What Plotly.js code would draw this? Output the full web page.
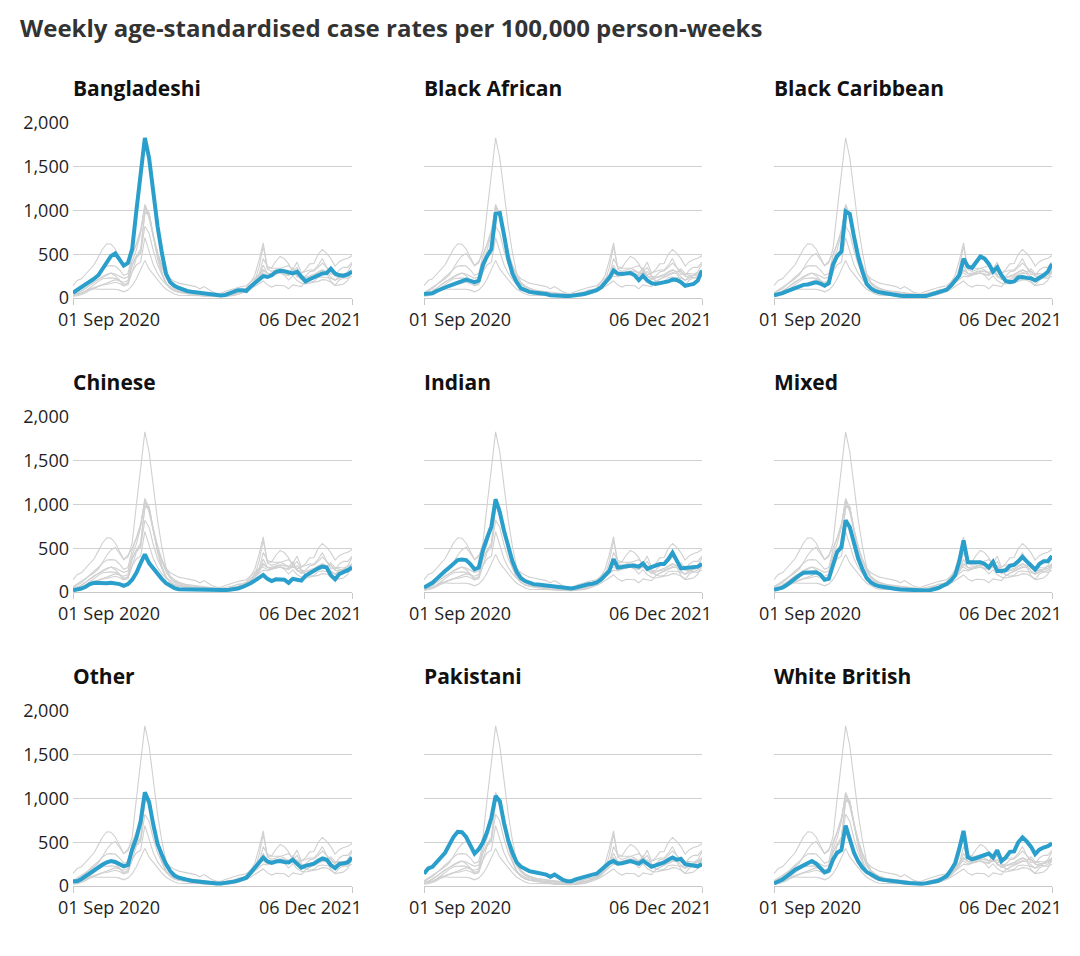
<!DOCTYPE html>
<html>
<head>
<meta charset="utf-8">
<script src="https://cdn.plot.ly/plotly-3.0.1.min.js"></script>
<style>
  html, body { margin: 0; padding: 0; background: #ffffff; }
  #chart { width: 1080px; height: 956px; }
</style>
</head>
<body>
<div id="chart"></div>
<script>
// ---- Data (weekly, 01 Sep 2020 .. 06 Dec 2021) ----
const chartTitle = "Weekly age-standardised case rates per 100,000 person-weeks";
const groups = ["Bangladeshi", "Black African", "Black Caribbean", "Chinese", "Indian", "Mixed", "Other", "Pakistani", "White British"];
const xTickLabels = ["01 Sep 2020", "06 Dec 2021"];
const yTickVals = [0, 500, 1000, 1500, 2000];

const bangladeshi = [60,90,120,150,185,220,260,340,420,480,510,440,370,400,560,1000,1450,1830,1600,1200,820,520,280,180,140,115,95,80,72,66,60,55,45,38,32,30,35,50,65,90,90,80,130,170,210,250,240,260,300,310,305,290,280,300,240,190,215,235,260,280,285,335,280,260,255,270,300];
const blackAfrican = [45,48,55,80,105,120,140,155,170,190,210,195,180,200,380,480,560,960,970,720,450,280,180,110,85,70,62,58,55,45,32,28,25,22,22,25,30,35,45,60,72,90,120,170,230,315,280,275,275,285,260,205,255,200,170,160,170,175,190,210,205,180,140,150,160,200,315];
const blackCaribbean = [30,40,55,75,95,115,130,150,155,165,180,165,140,170,380,480,530,990,960,700,470,300,160,110,80,65,55,50,45,35,25,22,20,20,20,20,22,35,50,65,80,95,140,200,260,450,360,345,420,475,450,390,300,350,260,195,180,190,235,240,230,225,200,225,260,300,390];
const chinese = [20,25,40,60,90,105,100,100,100,105,100,90,70,90,140,220,330,430,330,270,200,150,100,70,45,32,30,30,30,28,25,22,20,20,20,20,22,25,30,40,55,75,100,130,160,195,150,125,145,145,140,105,150,140,130,185,215,240,270,290,280,190,145,205,225,250,280];
const indian = [50,80,105,150,200,240,280,330,365,370,365,320,260,280,480,620,750,1060,910,700,520,350,230,160,125,105,90,85,78,72,70,62,55,50,42,40,50,65,78,88,95,110,140,190,240,375,280,285,295,300,300,290,325,265,285,300,320,320,375,450,350,270,275,280,275,290,320];
const mixed = [25,35,50,80,120,150,190,220,225,230,225,200,140,150,300,460,510,820,740,540,380,260,160,110,80,65,55,50,45,35,28,25,20,18,15,15,18,20,30,45,70,90,130,190,350,590,340,340,345,340,320,280,345,240,240,250,300,310,350,400,350,300,255,320,350,350,410];
const other = [55,55,80,115,150,180,215,245,270,285,275,250,225,240,420,550,740,1070,960,700,480,360,250,170,120,95,80,68,60,55,48,42,38,33,30,30,33,40,50,62,80,95,150,210,270,325,280,265,280,285,275,270,300,250,210,230,240,255,290,315,300,240,205,250,260,270,325];
const pakistani = [140,200,220,270,320,380,470,560,620,615,560,460,370,420,500,620,780,1030,970,720,520,380,270,220,190,170,160,150,140,130,105,130,100,70,55,55,75,90,110,120,130,140,185,230,265,285,255,260,275,285,270,255,290,250,220,235,250,270,300,325,300,310,250,240,230,225,250];
const whiteBritish = [30,50,75,110,150,185,210,235,260,285,255,200,155,175,300,380,410,690,520,380,280,210,160,130,100,80,70,62,58,55,48,40,35,30,25,25,30,38,45,60,85,115,180,260,430,630,330,305,320,340,355,370,325,410,285,325,390,395,500,555,510,450,365,415,440,455,485];

const seriesList = [bangladeshi, blackAfrican, blackCaribbean, chinese, indian, mixed, other, pakistani, whiteBritish];

// ---- Layout geometry (pixels) ----
const W = 1080, H = 956;
const colLeft = [73, 424, 774];
const colRight = [352, 702, 1052];
const rowTop = [123, 417, 711];
const plotH = 175;

const BLUE = "#2a9fcb";
const GREY = "#d0d0d0";
const FONT = "Open Sans, Noto Sans, sans-serif";

const weekIdx = bangladeshi.map((_, i) => i);
const nW = weekIdx.length - 1;

const traces = [];
const layout = {
  width: W, height: H,
  margin: {l: 0, r: 0, t: 0, b: 0},
  paper_bgcolor: "#ffffff",
  plot_bgcolor: "rgba(0,0,0,0)",
  showlegend: false,
  font: {family: FONT, size: 18, color: "#1f1f1f"},
  annotations: [],
  hovermode: false
};

layout.annotations.push({
  text: "<b>" + chartTitle + "</b>",
  xref: "paper", yref: "paper",
  x: 20 / W, y: 1 - 27 / H,
  xanchor: "left", yanchor: "middle", xshift: -2,
  showarrow: false,
  font: {family: FONT, size: 24, color: "#333333"}
});

groups.forEach((g, p) => {
  const r = Math.floor(p / 3), c = p % 3;
  const n = p + 1;
  const xa = "x" + (n === 1 ? "" : n);
  const ya = "y" + (n === 1 ? "" : n);
  const xKey = "xaxis" + (n === 1 ? "" : n);
  const yKey = "yaxis" + (n === 1 ? "" : n);

  // grey background lines: all groups
  seriesList.forEach((s) => {
    traces.push({
      type: "scatter", mode: "lines",
      x: weekIdx, y: s, xaxis: xa, yaxis: ya,
      line: {color: GREY, width: 1.1},
      hoverinfo: "skip"
    });
  });
  // highlighted group
  traces.push({
    type: "scatter", mode: "lines",
    x: weekIdx, y: seriesList[p], xaxis: xa, yaxis: ya,
    line: {color: BLUE, width: 4},
    name: g
  });

  layout[xKey] = {
    domain: [colLeft[c] / W, colRight[c] / W],
    anchor: ya,
    range: [0, nW],
    showgrid: false, zeroline: false,
    showline: true, linecolor: "#c8c8c8", linewidth: 1,
    ticks: "outside", ticklen: 6, tickcolor: "#c8c8c8", tickwidth: 1,
    tickvals: [0, nW],
    showticklabels: false,
    fixedrange: true
  };
  layout[yKey] = {
    domain: [1 - (rowTop[r] + plotH) / H, 1 - rowTop[r] / H],
    anchor: xa,
    range: [0, 2000],
    tickvals: yTickVals,
    tickformat: ",",
    showgrid: true, gridcolor: "#d0d0d0", gridwidth: 1,
    zeroline: false, showline: false, ticks: "",
    ticklabelstandoff: 3,
    showticklabels: c === 0,
    tickfont: {family: FONT, size: 18, color: "#1f1f1f"},
    fixedrange: true
  };

  // panel title
  layout.annotations.push({
    text: "<b>" + g + "</b>",
    xref: "paper", yref: "paper",
    x: colLeft[c] / W, y: 1 - (rowTop[r] - 35) / H,
    xanchor: "left", yanchor: "middle", xshift: -2,
    showarrow: false,
    font: {family: FONT, size: 21, color: "#111111"}
  });
  // x tick labels
  const yLab = 1 - (rowTop[r] + plotH + 21) / H;
  layout.annotations.push({
    text: xTickLabels[0],
    xref: "paper", yref: "paper",
    x: (colLeft[c] - 16) / W, y: yLab,
    xanchor: "left", yanchor: "middle", borderpad: 0,
    showarrow: false,
    font: {family: FONT, size: 18, color: "#1f1f1f"}
  });
  layout.annotations.push({
    text: xTickLabels[1],
    xref: "paper", yref: "paper",
    x: (colRight[c] + 11) / W, y: yLab,
    xanchor: "right", yanchor: "middle", borderpad: 0,
    showarrow: false,
    font: {family: FONT, size: 18, color: "#1f1f1f"}
  });
});

Plotly.newPlot("chart", traces, layout, {displayModeBar: false, staticPlot: true});
</script>
</body>
</html>
